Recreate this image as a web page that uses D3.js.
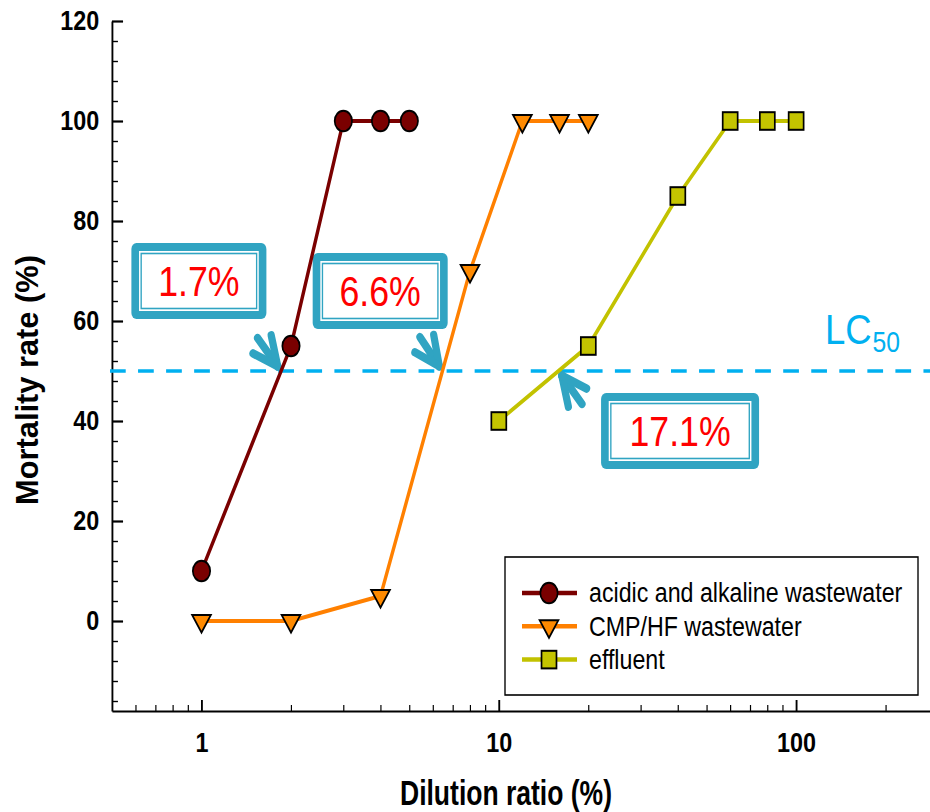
<!DOCTYPE html>
<html>
<head>
<meta charset="utf-8">
<script src="https://cdn.jsdelivr.net/npm/d3@7"></script>
<style>
  body { margin: 0; background: #fff; }
  text { font-family: "Liberation Sans", Arial, sans-serif; }
</style>
</head>
<body>
<div id="chart"></div>
<script>
// data
var acidX = [1, 2, 3, 4, 5];
var acidY = [10, 55, 100, 100, 100];
var cmpX = [1, 2, 4, 8, 12, 16, 20];
var cmpY = [0, 0, 5, 70, 100, 100, 100];
var effX = [10, 20, 40, 60, 80, 100];
var effY = [40, 55, 85, 100, 100, 100];
var seriesNames = ["acidic and alkaline wastewater", "CMP/HF wastewater", "effluent"];
var seriesColors = ["#7a0000", "#ff8000", "#c2c200"];
var markerFills = ["#7a0000", "#ff8a00", "#c4c400"];

var xTicks = [1, 10, 100];
var xMinor = [0.6, 0.7, 0.8, 0.9, 2, 3, 4, 5, 6, 7, 8, 9, 20, 30, 40, 50, 60, 70, 80, 90, 200];
var yTicks = [0, 20, 40, 60, 80, 100, 120];
var lcLevel = 50;
var lcLabels = ["1.7%", "6.6%", "17.1%"];
// box centres in data units, and arrow shaft direction (deg)
var boxX = [0.98, 3.99, 40.7];
var boxY = [68, 66, 38];
var arrowAngle = [-130, -128, 50];

// the picture is squeezed horizontally, so draw in a wider viewBox
var sx = 0.85;
var W = 930 / sx, H = 812;

var svg = d3.select("#chart")
    .append("svg")
    .attr("width", 930)
    .attr("height", 812)
    .attr("viewBox", "0 0 " + W + " " + H)
    .attr("preserveAspectRatio", "none");

var x = d3.scaleLog().domain([0.5, 300]).range([112 / sx, 938 / sx]);
var y = d3.scaleLinear().domain([-18, 120]).range([711, 21]);

var teal = "#30a4c2";
var lcBlue = "#00b0f0";

// minor ticks
var yMinor = d3.range(-16, 120, 4).filter(function (d) { return d % 20 != 0; });
svg.append("g")
    .attr("transform", "translate(" + x(0.5) + ",0)")
    .call(d3.axisLeft(y).tickValues(yMinor).tickSize(-7).tickFormat(""))
    .call(function (g) { g.select(".domain").remove(); })
    .selectAll("line").attr("stroke-width", 1.4);
svg.append("g")
    .attr("transform", "translate(0," + y(-18) + ")")
    .call(d3.axisBottom(x).tickValues(xMinor).tickSize(-6).tickFormat(""))
    .call(function (g) { g.select(".domain").remove(); })
    .selectAll("line").attr("stroke-width", 1.4);

// major axes
var yAx = svg.append("g")
    .attr("transform", "translate(" + x(0.5) + ",0)")
    .call(d3.axisLeft(y).tickValues(yTicks).tickSizeInner(-13).tickSizeOuter(0).tickPadding(15).tickFormat(d3.format("d")));
var xAx = svg.append("g")
    .attr("transform", "translate(0," + y(-18) + ")")
    .call(d3.axisBottom(x).tickValues(xTicks).tickSizeInner(-11).tickSizeOuter(0).tickPadding(21).tickFormat(d3.format("d")));
[yAx, xAx].forEach(function (g) {
    g.select(".domain").attr("stroke-width", 2.2);
    g.selectAll(".tick line").attr("stroke-width", 2.2);
    g.selectAll(".tick text")
        .attr("font-family", "'Liberation Sans', Arial, sans-serif")
        .attr("font-size", 27.5)
        .attr("font-weight", "bold")
        .attr("fill", "#000");
});

// axis titles
svg.append("text")
    .attr("x", 506 / sx)
    .attr("y", 805)
    .attr("text-anchor", "middle")
    .attr("font-size", 36)
    .attr("font-weight", "bold")
    .attr("textLength", 212 / sx)
    .attr("lengthAdjust", "spacingAndGlyphs")
    .text("Dilution ratio (%)");
svg.append("text")
    .attr("transform", "translate(" + (38 / sx) + "," + 380 + ") rotate(-90)")
    .attr("text-anchor", "middle")
    .attr("font-size", 37)
    .attr("font-weight", "bold")
    .attr("textLength", 250)
    .attr("lengthAdjust", "spacingAndGlyphs")
    .text("Mortality rate (%)");

// LC50 line
svg.append("line")
    .attr("x1", 110 / sx).attr("x2", W)
    .attr("y1", y(lcLevel)).attr("y2", y(lcLevel))
    .attr("stroke", lcBlue)
    .attr("stroke-width", 3.6)
    .attr("stroke-dasharray", "18.5,14.5");
var lcText = svg.append("text")
    .attr("x", 825 / sx)
    .attr("y", 344)
    .attr("fill", lcBlue)
    .attr("font-family", "Lato, 'Open Sans', sans-serif")
    .attr("font-size", 43);
lcText.append("tspan").text("LC");
lcText.append("tspan").attr("font-size", 29).attr("dx", 1).attr("dy", 8).text("50");

// where each series crosses LC50 (log-x interpolation)
function crossing(xs, ys) {
    for (var i = 1; i < xs.length; i++) {
        if (ys[i - 1] < lcLevel && ys[i] >= lcLevel) {
            var f = (lcLevel - ys[i - 1]) / (ys[i] - ys[i - 1]);
            var lx = Math.log10(xs[i - 1]) + f * (Math.log10(xs[i]) - Math.log10(xs[i - 1]));
            return Math.pow(10, lx);
        }
    }
}
var crossX = [crossing(acidX, acidY), crossing(cmpX, cmpY), crossing(effX, effY)];

// annotation boxes
var boxW = [135 / sx, 135 / sx, 158 / sx], boxH = 76;
lcLabels.forEach(function (lab, i) {
    var cx = x(boxX[i]), cy = y(boxY[i]);
    var g = svg.append("g");
    g.append("rect")
        .attr("x", cx - boxW[i] / 2).attr("y", cy - boxH / 2)
        .attr("width", boxW[i]).attr("height", boxH)
        .attr("rx", 6).attr("fill", teal);
    g.append("rect")
        .attr("x", cx - boxW[i] / 2 + 9).attr("y", cy - boxH / 2 + 8)
        .attr("width", boxW[i] - 18).attr("height", boxH - 16)
        .attr("fill", "#fff");
    g.append("rect")
        .attr("x", cx - boxW[i] / 2 + 11.5).attr("y", cy - boxH / 2 + 10.5)
        .attr("width", boxW[i] - 23).attr("height", boxH - 21)
        .attr("fill", "none").attr("stroke", teal).attr("stroke-width", 1.6);
    g.append("text")
        .attr("x", cx).attr("y", cy + 15)
        .attr("text-anchor", "middle")
        .attr("fill", "#ff0000")
        .attr("font-size", 42)
        .text(lab);

    // arrow pointing at the crossing
    var a = arrowAngle[i] * Math.PI / 180;
    var px = x(crossX[i]), py = y(lcLevel);
    var tx = px + Math.cos(a) * 6, ty = py + Math.sin(a) * 6;
    [[0, 37], [26, 32], [-26, 32]].forEach(function (b) {
        var aa = a + b[0] * Math.PI / 180;
        svg.append("line")
            .attr("x1", tx).attr("y1", ty)
            .attr("x2", tx + Math.cos(aa) * b[1]).attr("y2", ty + Math.sin(aa) * b[1])
            .attr("stroke", teal).attr("stroke-width", 8.5)
            .attr("stroke-linecap", "round");
    });
});

// series
var series = [
    { xs: acidX, ys: acidY, shape: "circle" },
    { xs: cmpX, ys: cmpY, shape: "triangle" },
    { xs: effX, ys: effY, shape: "square" }
];

function marker(g, shape, fill) {
    if (shape == "circle") {
        g.append("circle").attr("r", 10.2);
    } else if (shape == "triangle") {
        g.append("path").attr("d", "M-11,-6L11,-6L0,11.5Z");
    } else {
        g.append("rect").attr("x", -8.8).attr("y", -8.8).attr("width", 17.6).attr("height", 17.6);
    }
    g.selectAll("*").attr("fill", fill).attr("stroke", "#000").attr("stroke-width", 2);
}

var line = d3.line()
    .x(function (d) { return x(d[0]); })
    .y(function (d) { return y(d[1]); });

series.forEach(function (s, i) {
    var pts = s.xs.map(function (v, j) { return [v, s.ys[j]]; });
    svg.append("path")
        .attr("d", line(pts))
        .attr("fill", "none")
        .attr("stroke", seriesColors[i])
        .attr("stroke-width", 4);
    pts.forEach(function (p) {
        var g = svg.append("g").attr("transform", "translate(" + x(p[0]) + "," + y(p[1]) + ")");
        marker(g, s.shape, markerFills[i]);
    });
});

// legend
var lg = svg.append("g");
lg.append("rect")
    .attr("x", 505 / sx).attr("y", 557)
    .attr("width", 413 / sx).attr("height", 138)
    .attr("fill", "#fff").attr("stroke", "#000").attr("stroke-width", 1.6);
seriesNames.forEach(function (name, i) {
    var ly = 593 + i * 33.3;
    lg.append("line")
        .attr("x1", 522 / sx).attr("x2", 577 / sx)
        .attr("y1", ly).attr("y2", ly)
        .attr("stroke", seriesColors[i]).attr("stroke-width", 4.5);
    var g = lg.append("g").attr("transform", "translate(" + (549 / sx) + "," + ly + ")");
    marker(g, series[i].shape, markerFills[i]);
    lg.append("text")
        .attr("x", 589 / sx).attr("y", ly + 9.5)
        .attr("font-size", 27.3)
        .attr("fill", "#000")
        .text(name);
});
</script>
</body>
</html>
